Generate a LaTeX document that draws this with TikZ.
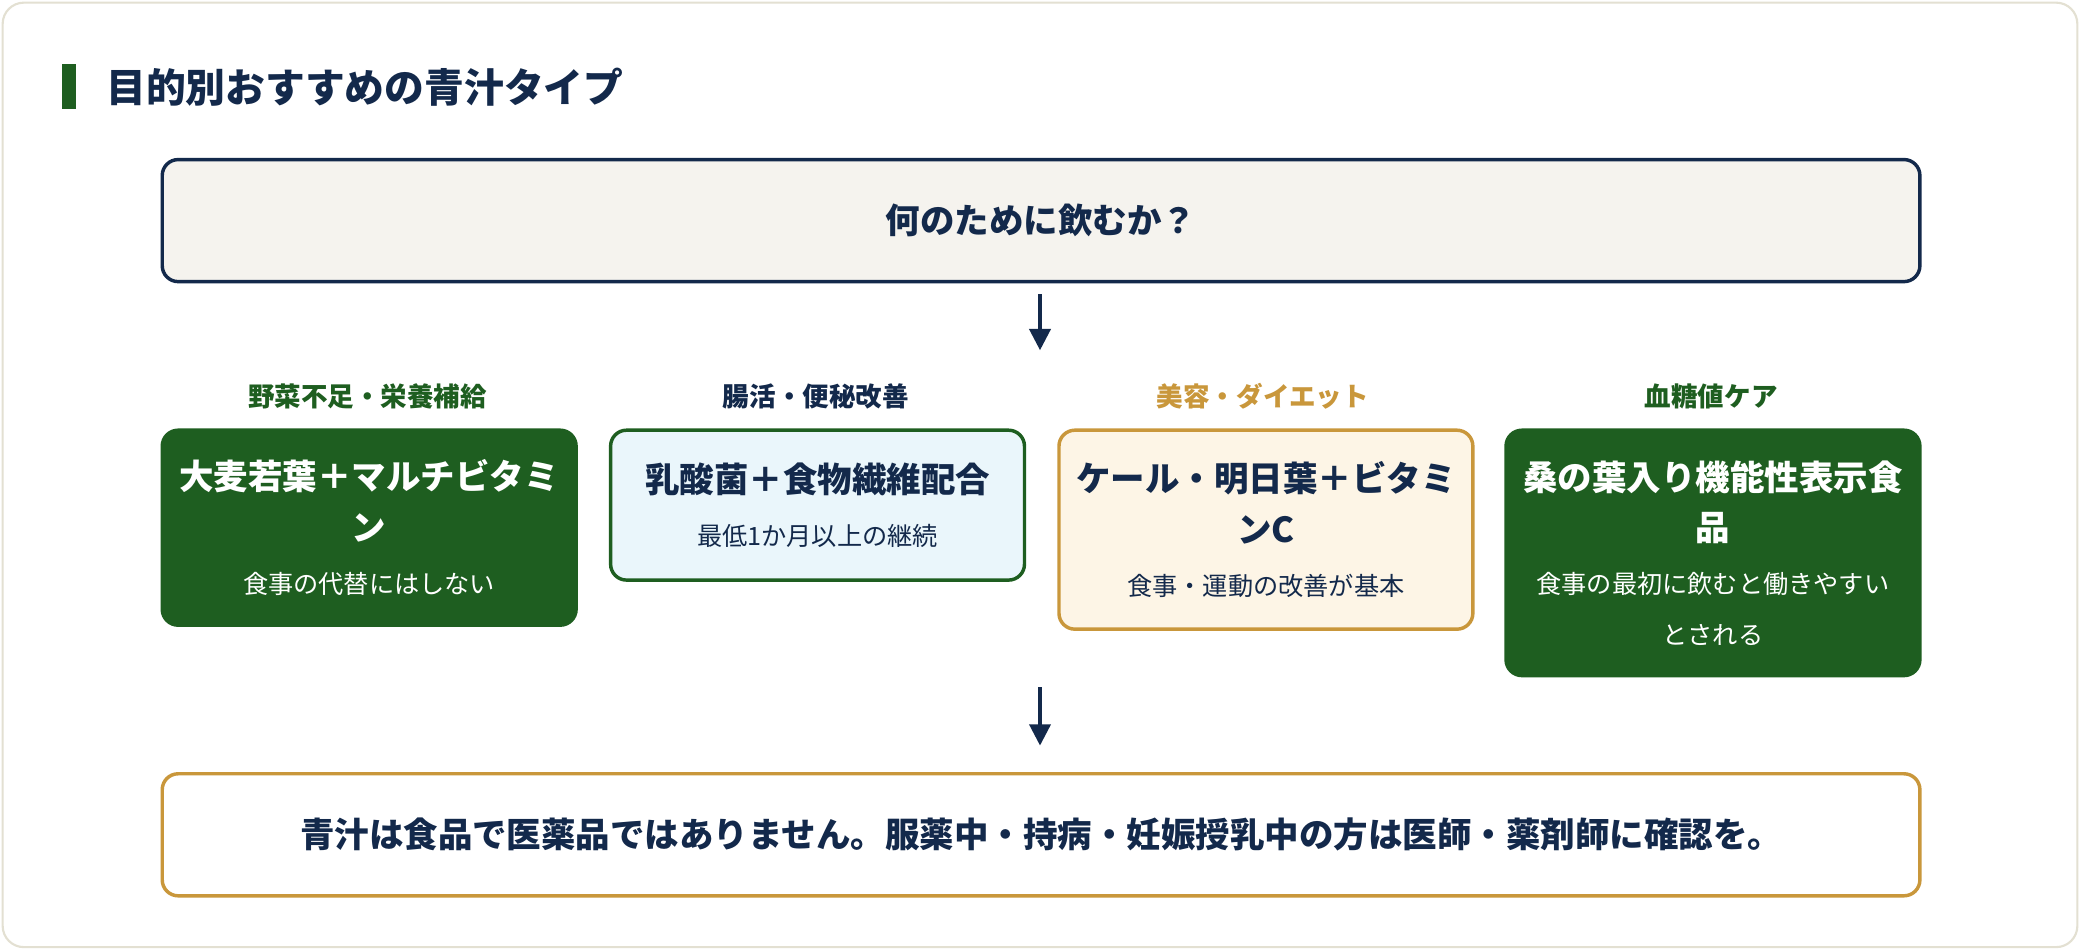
\documentclass[tikz,border=0pt]{standalone}
\usepackage{fontspec}
\setmainfont{Noto Sans CJK JP}
\usetikzlibrary{arrows.meta,positioning}
\definecolor{navy}{HTML}{13294B}
\definecolor{leaf}{HTML}{1E5E20}
\definecolor{gold}{HTML}{C9973B}
\definecolor{paper}{HTML}{F5F3EE}
\definecolor{sky}{HTML}{EAF6FB}
\definecolor{cream}{HTML}{FDF5E6}
\definecolor{edge}{HTML}{E3E0D2}
\tikzset{
  box/.style={draw, rounded corners=6pt, line width=1.3pt, anchor=north west, align=center, minimum width=156pt, inner sep=0pt},
  head/.style={font=\bfseries\fontsize{10}{12}\selectfont},
  main/.style={font=\bfseries\fontsize{13}{19}\selectfont},
  down/.style={-{Triangle[length=8pt,width=8pt]}, line width=1.2pt, navy}
}
\newcommand{\subfont}{\normalfont\fontsize{9.5}{19}\selectfont}
\begin{document}
\begin{tikzpicture}[x=0.5pt,y=0.5pt]
\useasboundingbox (0,0) rectangle (1568,-716);
\draw[edge, rounded corners=8pt, line width=0.8pt, fill=white] (2,-2) rectangle (1566,-714);
% title
\fill[leaf] (47,-48) rectangle (57,-82);
\node[anchor=west, navy, font=\bfseries\fontsize{15}{18}\selectfont] (title) at (73,-66) {目的別おすすめの青汁タイプ};
% question
\node[box, navy, fill=paper, minimum width=662.5pt, minimum height=46pt, main] (ask) at (121,-119) {何のために飲むか？};
\coordinate (a1) at (784,-222);
\coordinate (a2) at (784,-264);
\draw[down] (a1) -- (a2);
% columns
\node[head, leaf] (h1) at (277,-299) {野菜不足・栄養補給};
\node[head, navy] (h2) at (615,-299) {腸活・便秘改善};
\node[head, gold] (h3) at (952,-299) {美容・ダイエット};
\node[head, leaf] (h4) at (1290,-299) {血糖値ケア};
\node[box, leaf, fill=leaf, text=white, minimum height=73.5pt, main] (c1) at (121,-323) {大麦若葉＋マルチビタミ\\ン\\[1pt]\subfont 食事の代替にはしない};
\node[box, leaf, fill=sky, text=navy, minimum height=56.5pt, main] (c2) at (459,-323) {乳酸菌＋食物繊維配合\\[1pt]\subfont 最低1か月以上の継続};
\node[box, gold, fill=cream, text=navy, minimum height=75pt, main] (c3) at (797,-323) {ケール・明日葉＋ビタミ\\ンC\\[1pt]\subfont 食事・運動の改善が基本};
\node[box, leaf, fill=leaf, text=white, minimum height=92.5pt, main] (c4) at (1134,-323) {桑の葉入り機能性表示食\\品\\[1pt]\subfont 食事の最初に飲むと働きやすい\\\subfont とされる};
\coordinate (b1) at (784,-518);
\coordinate (b2) at (784,-562);
\draw[down] (b1) -- (b2);
% note
\node[box, gold, fill=white, text=navy, minimum width=662.5pt, minimum height=46pt, main] (note) at (121,-582) {青汁は食品で医薬品ではありません。服薬中・持病・妊娠授乳中の方は医師・薬剤師に確認を。};
\end{tikzpicture}
\end{document}
